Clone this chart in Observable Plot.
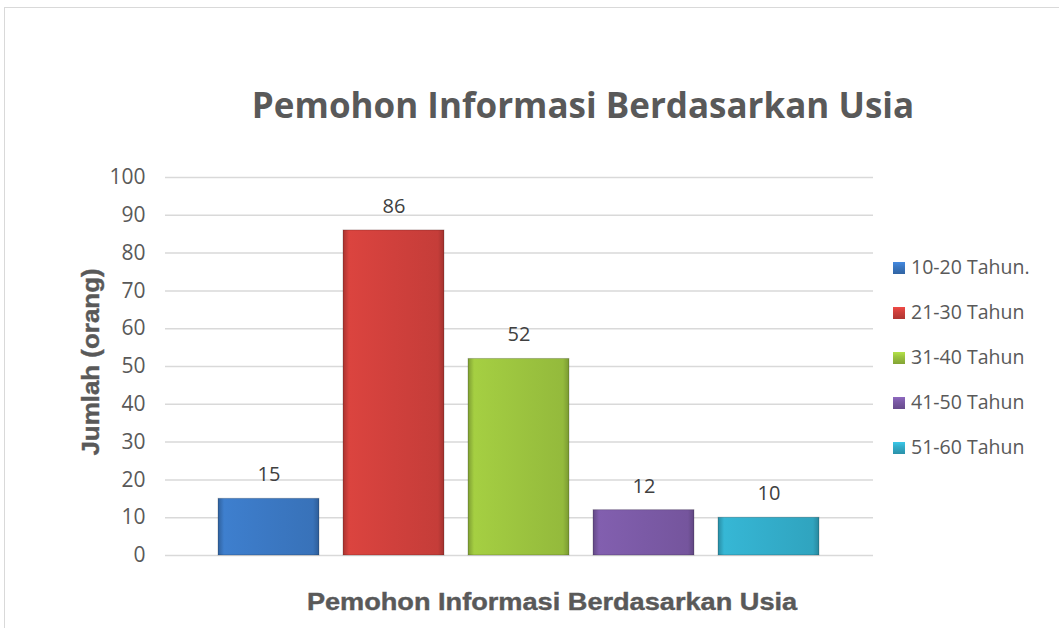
<!DOCTYPE html>
<html><head><meta charset="utf-8">
<script src="https://cdn.jsdelivr.net/npm/d3@7"></script>
<script src="https://cdn.jsdelivr.net/npm/@observablehq/plot@0.6"></script>
<style>
body{margin:0;background:#fff;}
#wrap{position:relative;width:1059px;height:628px;overflow:hidden;font-family:"Open Sans",sans-serif;}
#frame{position:absolute;left:4px;top:7px;width:1100px;height:700px;border:1px solid #D9D9D9;box-sizing:border-box;}
#title{position:absolute;left:0;width:1166px;top:81px;text-align:center;font-weight:700;font-size:35px;color:#595959;}
#legend{position:absolute;left:893px;top:254px;}
.li{height:45px;display:flex;align-items:flex-start;font-size:19.5px;color:#595959;line-height:26px;}
.sw{width:12px;height:12px;margin-top:8px;margin-right:6px;}
#chart{position:absolute;left:0;top:0;}
.axt{position:absolute;white-space:nowrap;font-family:"Liberation Sans",Arial,sans-serif;font-weight:700;color:#595959;line-height:1;-webkit-text-stroke:0.4px #595959;}
#xt{left:552px;top:603px;font-size:23.5px;transform:translate(-50%,-50%) scaleX(1.155);}
#yt{left:91px;top:362px;font-size:24px;transform:translate(-50%,-50%) rotate(-90deg) scaleX(1.08);}
</style></head>
<body>
<div id="wrap">
<div id="frame"></div>
<div id="chart"></div>
<div id="title">Pemohon Informasi Berdasarkan Usia</div>
<div id="xt" class="axt"></div>
<div id="yt" class="axt"></div>
<div id="legend"></div>
</div>
<script>
const categories = ["10-20 Tahun.", "21-30 Tahun", "31-40 Tahun", "41-50 Tahun", "51-60 Tahun"];
const values = [15, 86, 52, 12, 10];
const colors = ["#3B78C3", "#D0403C", "#9CC43F", "#7B5AA6", "#33ADCA"];
const yTicks = [0, 10, 20, 30, 40, 50, 60, 70, 80, 90, 100];
const yTitle = "Jumlah (orang)";
const xTitle = "Pemohon Informasi Berdasarkan Usia";

document.getElementById("xt").textContent = xTitle;
document.getElementById("yt").textContent = yTitle;

const data = categories.map((c, i) => ({cat: c, value: values[i], grad: `url(#g${i})`}));

// gradient defs
const ns = "http://www.w3.org/2000/svg";
const defsSvg = document.createElementNS(ns, "svg");
defsSvg.setAttribute("width", 0); defsSvg.setAttribute("height", 0);
defsSvg.style.position = "absolute";
const defs = document.createElementNS(ns, "defs");
colors.forEach((c, i) => {
  const base = d3.color(c);
  const g = document.createElementNS(ns, "linearGradient");
  g.setAttribute("id", "g" + i);
  g.setAttribute("x1", "0"); g.setAttribute("x2", "1"); g.setAttribute("y1", "0"); g.setAttribute("y2", "0");
  const stops = [[0, base.darker(0.6)], [0.06, base.brighter(0.15)], [0.5, base], [0.94, base.darker(0.15)], [1, base.darker(0.7)]];
  stops.forEach(([o, col]) => {
    const s = document.createElementNS(ns, "stop");
    s.setAttribute("offset", o); s.setAttribute("stop-color", col.formatHex());
    g.appendChild(s);
  });
  defs.appendChild(g);
});
defsSvg.appendChild(defs);
document.body.appendChild(defsSvg);

const chart = Plot.plot({
  width: 1059, height: 628,
  marginLeft: 165, marginRight: 186, marginTop: 177, marginBottom: 73,
  style: {fontFamily: "Open Sans, sans-serif", fontSize: "21px", color: "#595959", background: "transparent"},
  x: {domain: categories, paddingInner: 0.19, paddingOuter: 0.415, axis: null},
  y: {domain: [0, 100], ticks: yTicks, grid: false},
  marks: [
    Plot.gridY(yTicks, {stroke: "#D9D9D9", strokeOpacity: 1, strokeWidth: 1.5}),
    Plot.axisY(yTicks, {tickSize: 0, tickPadding: 20, label: null, fontSize: 21}),
    Plot.barY(data, {x: "cat", y: "value", fill: "grad", stroke: "#00000033", strokeWidth: 1}),
    Plot.text(data, {x: "cat", y: "value", text: d => String(d.value), dy: -24, fontSize: 20, fill: "#404040"})
  ]
});
document.getElementById("chart").appendChild(chart);

const legend = document.getElementById("legend");
categories.forEach((c, i) => {
  const row = document.createElement("div"); row.className = "li";
  const sw = document.createElement("div"); sw.className = "sw";
  sw.style.background = `linear-gradient(to bottom, ${d3.color(colors[i]).brighter(0.4)}, ${colors[i]} 40%, ${d3.color(colors[i]).darker(0.5)})`;
  const t = document.createElement("span"); t.textContent = c;
  row.appendChild(sw); row.appendChild(t); legend.appendChild(row);
});
</script>
</body></html>
